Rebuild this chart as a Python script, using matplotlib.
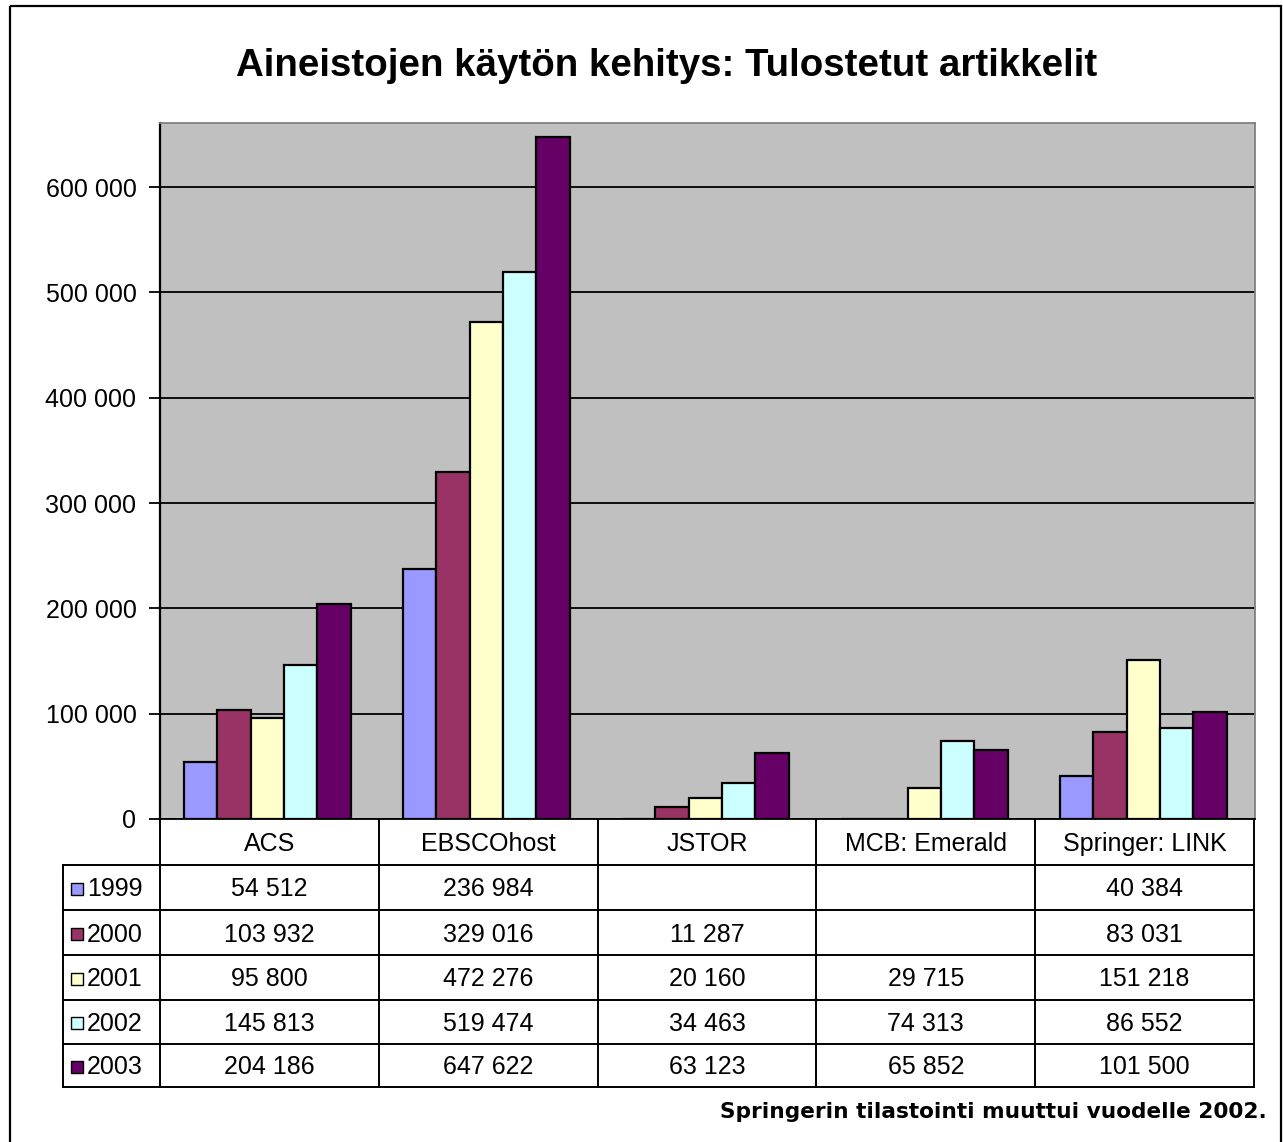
import matplotlib.pyplot as plt
from matplotlib.patches import Rectangle

plt.rcParams['font.family'] = ['Liberation Sans', 'DejaVu Sans']

# Data
categories = ['ACS', 'EBSCOhost', 'JSTOR', 'MCB: Emerald', 'Springer: LINK']
years = ['1999', '2000', '2001', '2002', '2003']
v1999 = [54512, 236984, None, None, 40384]
v2000 = [103932, 329016, 11287, None, 83031]
v2001 = [95800, 472276, 20160, 29715, 151218]
v2002 = [145813, 519474, 34463, 74313, 86552]
v2003 = [204186, 647622, 63123, 65852, 101500]
series = [v1999, v2000, v2001, v2002, v2003]
colors = ['#9999FF', '#993366', '#FFFFCC', '#CCFFFF', '#660066']
yticks = [0, 100000, 200000, 300000, 400000, 500000, 600000]

W, H = 1283, 1142
fig = plt.figure(figsize=(W / 100, H / 100), dpi=100)

# pixel layout
px_left, px_right, px_top, px_zero = 160, 1255, 123, 819
row_edges = [819, 865, 910, 955, 1000, 1044, 1087]
legend_left = 63


def fx(x):
    return x / W


def fy(y):
    return 1 - y / H


def fmt(v):
    return '' if v is None else f'{v:,}'.replace(',', ' ')


# overlay for frame and table (pixel coordinates)
ov = fig.add_axes([0, 0, 1, 1])
ov.set_xlim(0, W)
ov.set_ylim(H, 0)
ov.axis('off')
ov.add_patch(Rectangle((10, 6), 1271, 1150, fill=False, ec='black', lw=1.6))

# main chart
ax = fig.add_axes([fx(px_left), fy(px_zero), fx(px_right - px_left), (px_zero - px_top) / H])
ax.set_facecolor('#C0C0C0')
n = len(categories)
bw = 0.152
for i, (vals, c) in enumerate(zip(series, colors)):
    xs = [k - 0.5 + 0.11 + bw * (i + 0.5) for k in range(n)]
    hs = [0 if v is None else v for v in vals]
    ax.bar(xs, hs, width=bw, color=c, edgecolor='black', linewidth=1.6, zorder=3)
ax.set_xlim(-0.5, n - 0.5)
ax.set_ylim(0, 660800)
ax.set_yticks(yticks)
ax.set_yticklabels([fmt(t) for t in yticks], fontsize=18)
ax.set_xticks([])
ax.tick_params(axis='y', length=8, width=1.3, pad=9)
ax.grid(axis='y', color='black', linewidth=1.3, zorder=1)
for s in ['top', 'right', 'bottom']:
    ax.spines[s].set_color('#808080')
    ax.spines[s].set_linewidth(1.3)
ax.spines['bottom'].set_color('black')
ax.spines['left'].set_linewidth(1.6)

# data table
col_edges = [px_left + (px_right - 1 - px_left) * k / n for k in range(n + 1)]
lw = 1.4
for x in col_edges:
    ov.plot([x, x], [row_edges[0], row_edges[-1]], color='black', lw=lw)
ov.plot([legend_left, legend_left], [row_edges[1], row_edges[-1]], color='black', lw=lw)
for y in row_edges[1:]:
    ov.plot([legend_left, col_edges[-1]], [y, y], color='black', lw=lw)
for k, cat in enumerate(categories):
    cx = (col_edges[k] + col_edges[k + 1]) / 2
    ov.text(cx, (row_edges[0] + row_edges[1]) / 2 + 2, cat, ha='center', va='center', fontsize=18)
for i, (yr, vals, c) in enumerate(zip(years, series, colors)):
    cy = (row_edges[i + 1] + row_edges[i + 2]) / 2 + 2
    ov.add_patch(Rectangle((71, cy - 7), 12, 12, fc=c, ec='black', lw=1.0))
    ov.text(87, cy, yr, ha='left', va='center', fontsize=18)
    for k, v in enumerate(vals):
        cx = (col_edges[k] + col_edges[k + 1]) / 2
        ov.text(cx, cy, fmt(v), ha='center', va='center', fontsize=18)

ov.text(667, 66, 'Aineistojen käytön kehitys: Tulostetut artikkelit',
        ha='center', va='center', fontsize=27.7, fontweight='bold')
ov.text(1267, 1112, 'Springerin tilastointi muuttui vuodelle 2002.',
        ha='right', va='center', fontsize=15.6, fontweight='bold', family='DejaVu Sans')

fig.savefig('out.png', dpi=100)
